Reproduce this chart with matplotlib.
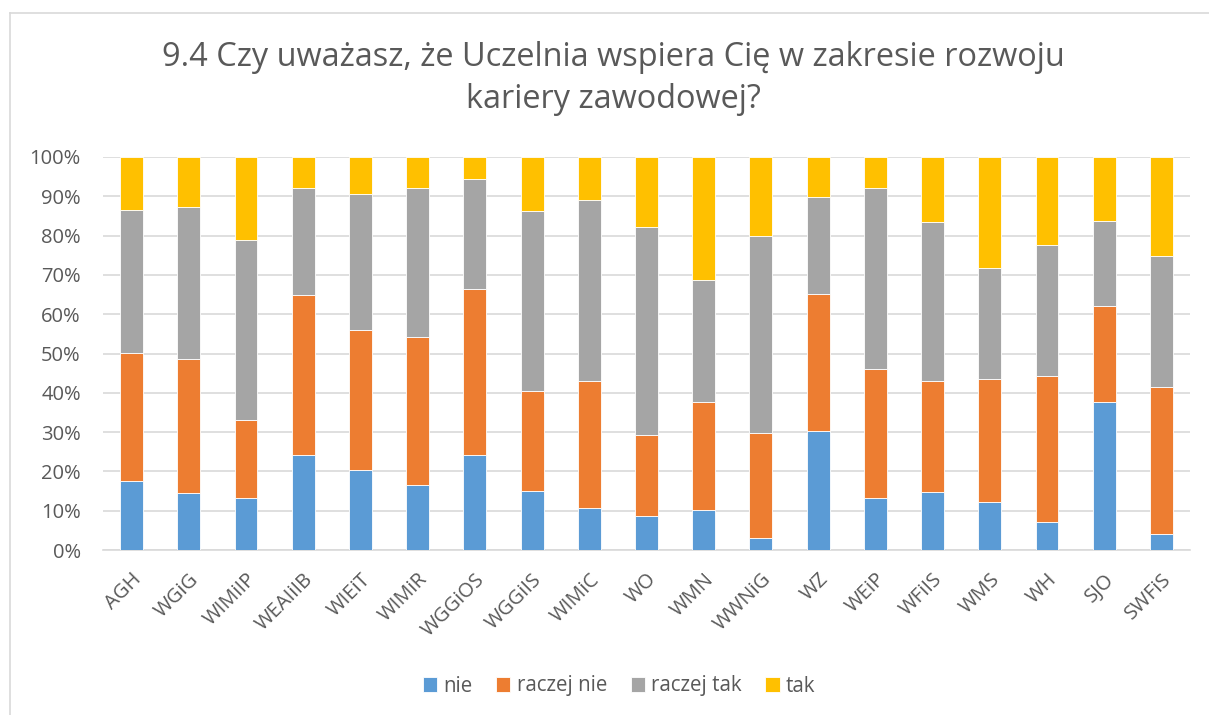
import numpy as np
import matplotlib
matplotlib.use('Agg')
import matplotlib.pyplot as plt
from matplotlib.lines import Line2D
from matplotlib.ticker import PercentFormatter

#=========================================================================
categories = ['AGH', 'WGiG', 'WIMiIP', 'WEAIiIB', 'WIEiT', 'WIMiR', 'WGGiOS',
              'WGGiIS', 'WIMiC', 'WO', 'WMN', 'WWNiG', 'WZ', 'WEiP',
              'WFiIS', 'WMS', 'WH', 'SJO', 'SWFiS']

# share of answers in percent
nie        = [17.5, 14.6, 13.3, 24.1, 20.4, 16.5, 24.3,
              15.0, 10.6, 8.7, 10.2, 3.1, 30.3, 13.3,
              14.8, 12.3, 7.2, 37.7, 4.0]
raczej_nie = [32.7, 34.1, 19.9, 40.8, 35.7, 37.8, 42.2,
              25.5, 32.3, 20.6, 27.5, 26.7, 34.8, 32.7,
              28.3, 31.2, 37.1, 24.3, 37.6]
raczej_tak = [36.3, 38.6, 45.7, 27.2, 34.5, 37.8, 27.8,
              45.8, 46.2, 52.9, 31.1, 50.1, 24.6, 46.1,
              40.4, 28.3, 33.3, 21.6, 33.3]
tak        = [13.5, 12.7, 21.1, 7.9, 9.4, 7.9, 5.7,
              13.7, 10.9, 17.8, 31.2, 20.1, 10.3, 7.9,
              16.5, 28.2, 22.4, 16.4, 25.1]

series_names = ['nie', 'raczej nie', 'raczej tak', 'tak']
colors = ['#5B9BD5', '#ED7D31', '#A5A5A5', '#FFC000']

txtcol = '#595959'
plt.rcParams['font.family'] = ['Open Sans', 'DejaVu Sans']

#=========================================================================
fig = plt.figure(figsize=(12.09, 7.15), dpi=100)
ax = fig.add_axes([103/1209, 1-550/715, (1190-103)/1209, (550-157)/715])

x = np.arange(len(categories))
bottom = np.zeros(len(categories))
for name, vals, col in zip(series_names, [nie, raczej_nie, raczej_tak, tak], colors):
  vals = np.array(vals, dtype=float)
  ax.bar(x, vals, 0.4, bottom=bottom, color=col, label=name,
         edgecolor='white', linewidth=0.6, zorder=3)
  bottom += vals

ax.set_xlim(-0.5, len(categories)-0.5)
ax.set_ylim(0, 100)
ax.set_yticks(np.arange(0, 101, 10))
ax.yaxis.set_major_formatter(PercentFormatter(decimals=0))
ax.grid(axis='y', color='#D9D9D9', linewidth=1.2, zorder=0)
for s in ['top', 'right', 'left']:
  ax.spines[s].set_visible(False)
ax.spines['bottom'].set_color('#D9D9D9')
ax.spines['bottom'].set_linewidth(1.2)
ax.tick_params(axis='both', length=0, colors=txtcol, labelsize=14.5)
ax.tick_params(axis='y', pad=16)
ax.set_xticks(x)
ax.set_xticklabels(categories, rotation=45, ha='right', rotation_mode='anchor')
ax.tick_params(axis='x', pad=14)

fig.text(0.507, 1-58/715, '9.4 Czy uważasz, że Uczelnia wspiera Cię w zakresie rozwoju',
         ha='center', va='center', fontsize=23.4, color=txtcol)
fig.text(0.507, 1-99/715, 'kariery zawodowej?',
         ha='center', va='center', fontsize=23.4, color=txtcol)

fig.legend(loc='center', bbox_to_anchor=(0.512, 1-686/715), ncol=4, frameon=False,
           fontsize=14.8, labelcolor=txtcol, handlelength=0.7, handleheight=0.7,
           handletextpad=0.3, columnspacing=1.15)

# light chart-area border
fig.add_artist(Line2D([10/1209, 10/1209], [0, 1-13/715], transform=fig.transFigure,
                      color='#D9D9D9', linewidth=1.2))
fig.add_artist(Line2D([10/1209, 1], [1-13/715, 1-13/715], transform=fig.transFigure,
                      color='#D9D9D9', linewidth=1.2))

fig.savefig('out.png', dpi=100)
